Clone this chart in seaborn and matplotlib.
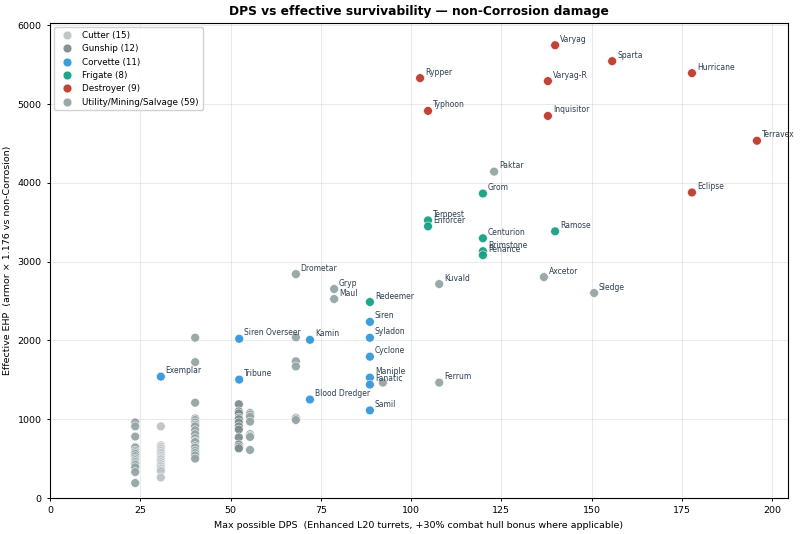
import numpy as np
import pandas as pd
import matplotlib
matplotlib.use("Agg")
import matplotlib.pyplot as plt
import seaborn as sns

CLASS_ORDER = ["Cutter", "Gunship", "Corvette", "Frigate", "Destroyer", "Utility/Mining/Salvage"]
CLASS_COLORS = ["#bdc3c7", "#7f8c8d", "#3498db", "#16a085", "#c0392b", "#95a5a6"]

# named ships
DESTROYER_NAMES = ["Varyag", "Sparta", "Hurricane", "Rypper", "Varyag-R", "Typhoon",
                   "Inquisitor", "Terravex", "Eclipse"]
DESTROYER_DPS = [139.9, 155.7, 177.8, 102.5, 137.9, 104.7, 137.9, 195.8, 177.8]
DESTROYER_EHP = [5747, 5545, 5393, 5330, 5292, 4914, 4850, 4535, 3878]

FRIGATE_NAMES = ["Grom", "Tempest", "Enforcer", "Ramose", "Centurion", "Brimstone",
                 "Penance", "Redeemer"]
FRIGATE_DPS = [119.9, 104.7, 104.7, 139.9, 119.9, 119.9, 119.9, 88.6]
FRIGATE_EHP = [3865, 3524, 3448, 3385, 3297, 3133, 3082, 2488]

CORVETTE_NAMES = ["Siren", "Syladon", "Kamin", "Siren Overseer", "Cyclone", "Maniple",
                  "Fanatic", "Blood Dredger", "Samil", "Tribune", "Exemplar"]
CORVETTE_DPS = [88.6, 88.6, 72.0, 52.4, 88.6, 88.6, 88.6, 72.0, 88.6, 52.4, 30.7]
CORVETTE_EHP = [2236, 2034, 2008, 2021, 1794, 1528, 1440, 1250, 1112, 1503, 1541]

UTILITY_NAMED = ["Paktar", "Axcetor", "Sledge", "Kuvald", "Drometar", "Gryp", "Maul", "Ferrum"]
UTILITY_NAMED_DPS = [123.0, 136.8, 150.7, 107.8, 68.1, 78.7, 78.7, 107.8]
UTILITY_NAMED_EHP = [4143, 2804, 2602, 2716, 2842, 2653, 2526, 1465]

# unnamed hulls (low DPS columns)
UTILITY_DPS = ([23.6] * 17 + [40.2] * 19 + [55.4] * 8 + [68.1] * 6 + [92.2])
UTILITY_EHP = ([960, 910, 780, 650, 640, 600, 580, 560, 530, 500, 480, 460, 440, 420, 390, 330, 190]
               + [2035, 1725, 1210, 1010, 990, 960, 930, 910, 860, 810, 760, 720, 710, 660, 640, 600, 570, 540, 500]
               + [1080, 1060, 1030, 970, 810, 790, 775, 610]
               + [2040, 1735, 1670, 1020, 1010, 990]
               + [1465])

CUTTER_DPS = [30.7] * 15
CUTTER_EHP = [909, 669, 650, 628, 600, 572, 540, 514, 490, 459, 430, 404, 375, 345, 261]

GUNSHIP_DPS = [52.3] * 12
GUNSHIP_EHP = [1190, 1100, 1075, 1020, 1000, 960, 910, 870, 770, 680, 650, 630]


def build_frame():
    parts = [
        pd.DataFrame({"name": "", "cls": "Cutter", "dps": CUTTER_DPS, "ehp": CUTTER_EHP}),
        pd.DataFrame({"name": "", "cls": "Gunship", "dps": GUNSHIP_DPS, "ehp": GUNSHIP_EHP}),
        pd.DataFrame({"name": CORVETTE_NAMES, "cls": "Corvette", "dps": CORVETTE_DPS, "ehp": CORVETTE_EHP}),
        pd.DataFrame({"name": FRIGATE_NAMES, "cls": "Frigate", "dps": FRIGATE_DPS, "ehp": FRIGATE_EHP}),
        pd.DataFrame({"name": DESTROYER_NAMES, "cls": "Destroyer", "dps": DESTROYER_DPS, "ehp": DESTROYER_EHP}),
        pd.DataFrame({"name": UTILITY_NAMED, "cls": "Utility/Mining/Salvage",
                      "dps": UTILITY_NAMED_DPS, "ehp": UTILITY_NAMED_EHP}),
        pd.DataFrame({"name": "", "cls": "Utility/Mining/Salvage", "dps": UTILITY_DPS, "ehp": UTILITY_EHP}),
    ]
    return pd.concat(parts, ignore_index=True)


df = build_frame()
counts = df["cls"].value_counts()
df["label"] = df["cls"].map(lambda c: f"{c} ({counts[c]})")
hue_order = [f"{c} ({counts[c]})" for c in CLASS_ORDER]

fig, ax = plt.subplots(figsize=(8, 5.34), dpi=100)
sns.scatterplot(
    data=df, x="dps", y="ehp", hue="label", hue_order=hue_order,
    palette=CLASS_COLORS, s=40, edgecolor="white", linewidth=0.4, alpha=0.95, ax=ax,
)

for _, row in df[df["name"] != ""].iterrows():
    ax.annotate(row["name"], (row["dps"], row["ehp"]), xytext=(3.5, 2.5),
                textcoords="offset points", fontsize=5.5, color="#2c3e50")

ax.set_xlim(left=0, right=204.4)
ax.set_ylim(bottom=0, top=6030)
ax.grid(True, alpha=0.3, linewidth=0.6)
ax.set_axisbelow(True)
ax.tick_params(labelsize=6.8, width=0.7, length=2.5)
for sp in ax.spines.values():
    sp.set_linewidth(0.8)
ax.set_xlabel("Max possible DPS  (Enhanced L20 turrets, +30% combat hull bonus where applicable)", fontsize=6.8)
ax.set_ylabel("Effective EHP  (armor × 1.176 vs non-Corrosion)", fontsize=6.8)
ax.set_title("DPS vs effective survivability — non-Corrosion damage", fontsize=8.8, fontweight="bold")
ax.legend(loc="upper left", fontsize=6.3, title=None, framealpha=0.9)

fig.subplots_adjust(left=0.0625, right=0.985, top=0.957, bottom=0.0674)
fig.savefig("out.png", dpi=100)
